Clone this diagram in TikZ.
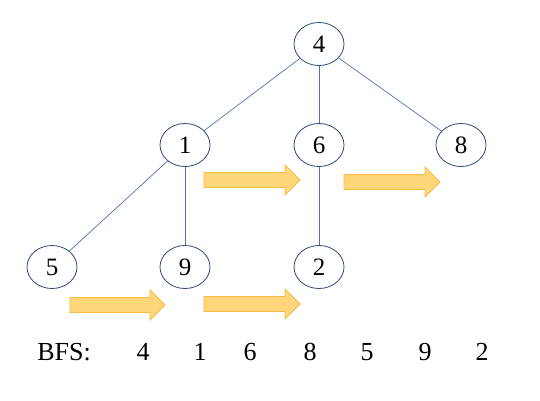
\documentclass[tikz,border=0pt]{standalone}
\usepackage{fontspec}
\setmainfont{Liberation Serif}
\usetikzlibrary{shapes.geometric}
\definecolor{nodeline}{RGB}{47,72,120}
\definecolor{edgeline}{RGB}{80,115,178}
\definecolor{arrfill}{RGB}{255,214,122}
\definecolor{arrline}{RGB}{244,188,66}
\tikzset{
  vert/.style={ellipse, draw=nodeline, line width=0.8pt, minimum width=50pt, minimum height=43pt, inner sep=0pt, font=\fontsize{25}{25}\selectfont},
  tedge/.style={draw=edgeline, line width=0.7pt},
  fatarr/.style={fill=arrfill, draw=arrline, line width=0.8pt, line join=miter},
  bfstext/.style={font=\fontsize{26}{26}\selectfont, inner sep=0pt}
}
\newcommand\fatarrow[3]{%
  \filldraw[fatarr] (#1,#3-7.5) -- (#2-15,#3-7.5) -- (#2-15,#3-15) -- (#2,#3) -- (#2-15,#3+15) -- (#2-15,#3+7.5) -- (#1,#3+7.5) -- cycle;}
\begin{document}
\begin{tikzpicture}[x=1pt,y=-1pt]
\useasboundingbox (0,0) rectangle (540,400);
\node[vert] (n4) at (319,44) {4};
\node[vert] (n1) at (185,145) {1};
\node[vert] (n6) at (319,145) {6};
\node[vert] (n8) at (461,145) {8};
\node[vert] (n5) at (52,267) {5};
\node[vert] (n9) at (185,267) {9};
\node[vert] (n2) at (319,267) {2};
\draw[tedge] (n4) -- (n1);
\draw[tedge] (n4) -- (n6);
\draw[tedge] (n4) -- (n8);
\draw[tedge] (n1) -- (n5);
\draw[tedge] (n1) -- (n9);
\draw[tedge] (n6) -- (n2);
\fatarrow{204}{300}{180}
\fatarrow{344}{440}{182}
\fatarrow{70}{165}{305}
\fatarrow{204}{300}{304}
\node[bfstext] (bfs) at (64,352) {BFS:};
\node[bfstext] (b1) at (143,352) {4};
\node[bfstext] (b2) at (200,352) {1};
\node[bfstext] (b3) at (250,352) {6};
\node[bfstext] (b4) at (310,352) {8};
\node[bfstext] (b5) at (367,352) {5};
\node[bfstext] (b6) at (425,352) {9};
\node[bfstext] (b7) at (482,352) {2};
\end{tikzpicture}
\end{document}
